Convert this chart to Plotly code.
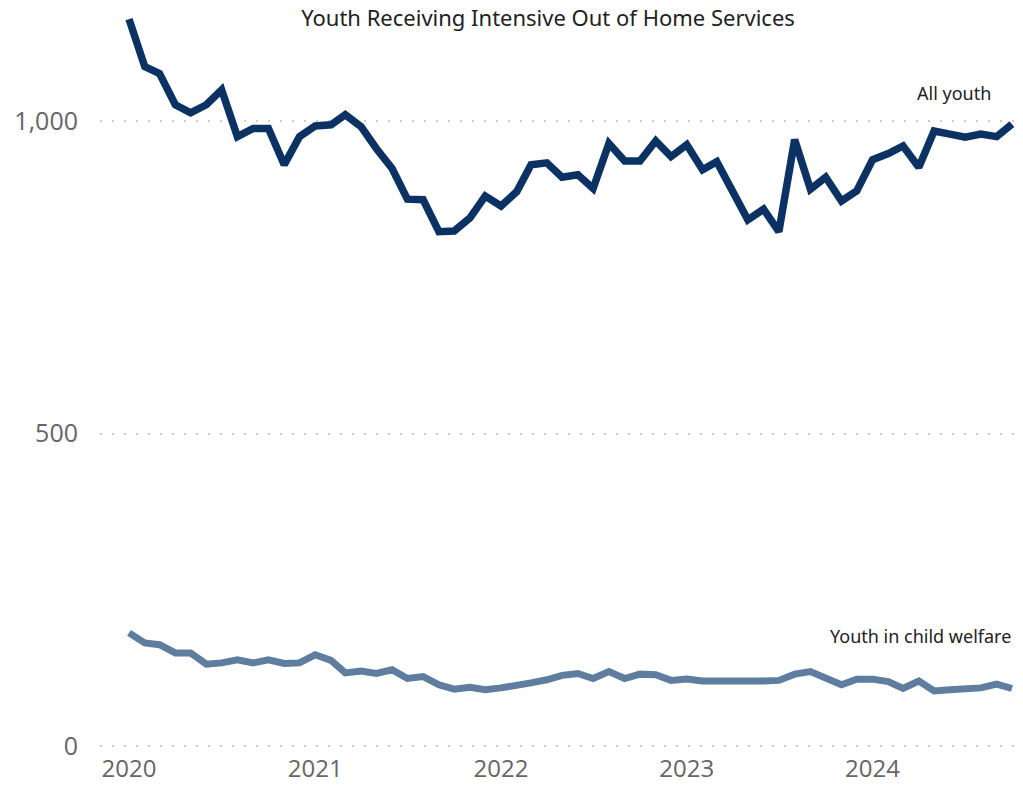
import plotly.graph_objects as go

months = [f"{y}-{m:02d}-01" for y in range(2020, 2025) for m in range(1, 13)][:58]

all_youth = [
    1163, 1087, 1076, 1026, 1013, 1026, 1050, 975, 988, 988, 930, 975,
    992, 994, 1010, 991, 956, 924, 875, 874, 823, 824, 845, 880,
    864, 887, 930, 933, 910, 914, 892, 964, 936, 936, 968, 943,
    962, 922, 935, 890, 842, 859, 823, 970, 891, 910, 872, 888,
    938, 948, 960, 926, 984, 979, 974, 979, 975, 995,
]
child_welfare = [
    181, 165, 162, 149, 149, 131, 133, 138, 133, 138, 132, 133,
    146, 137, 117, 120, 116, 122, 108, 111, 98, 91, 94, 90,
    93, 96, 101, 106, 113, 116, 108, 119, 108, 115, 114, 105,
    107, 104, 104, 103, 102, 104, 105, 115, 119, 110, 98, 107,
    107, 103, 92, 104, 88, 90, 91, 93, 99, 92,
]

x_tickvals = ["2020-01-01", "2021-01-01", "2022-01-01", "2023-01-01", "2024-01-01"]
x_ticktext = ["2020", "2021", "2022", "2023", "2024"]
y_tickvals = [0, 500, 1000]
y_ticktext = ["0", "500", "1,000"]

title_text = "Youth Receiving Intensive Out of Home Services"
label_all = "All youth"
label_cw = "Youth in child welfare"

W, H = 1023, 792
L, R, T, B = 100, 8, 8, 40

fig = go.Figure()
fig.add_trace(go.Scatter(x=months, y=child_welfare, mode="lines",
                         line=dict(color="#5f7e9f", width=7), name=label_cw,
                         hoverinfo="x+y"))
fig.add_trace(go.Scatter(x=months, y=all_youth, mode="lines",
                         line=dict(color="#0c3263", width=7.5), name=label_all,
                         hoverinfo="x+y"))

fig.update_layout(
    width=W, height=H,
    margin=dict(l=L, r=R, t=T, b=B),
    paper_bgcolor="white", plot_bgcolor="white",
    showlegend=False,
    title=dict(text=title_text, x=548/W, xanchor="center",
               y=1 - 18/H, yanchor="middle", yref="container",
               font=dict(family="Noto Sans", size=22, color="#222222")),
    xaxis=dict(
        type="date", automargin=False,
        range=["2019-11-05", "2024-10-07"],
        tickvals=x_tickvals, ticktext=x_ticktext,
        showgrid=False, zeroline=False, showline=False,
        ticks="", tickfont=dict(family="Open Sans", size=24, color="#666666"),
    ),
    yaxis=dict(
        automargin=False,
        range=[-9.6, 1180.8],
        tickvals=y_tickvals, ticktext=y_ticktext,
        showgrid=True, gridcolor="#cccccc", gridwidth=2, griddash="2px,10px",
        zeroline=False, showline=False, ticks="",
        ticklabelstandoff=21,
        tickfont=dict(family="Open Sans", size=25, color="#666666"),
    ),
    annotations=[
        dict(text=label_all, xref="paper", x=(993-100)/915, xanchor="right",
             yref="y", y=1045, yanchor="middle", showarrow=False,
             font=dict(family="Noto Sans", size=18, color="#222222")),
        dict(text=label_cw, xref="paper", x=(1013-100)/915, xanchor="right",
             yref="y", y=176, yanchor="middle", showarrow=False,
             font=dict(family="Noto Sans", size=18, color="#222222")),
    ],
)

fig.write_html("out.html", config={"displayModeBar": False},
               post_script="document.body.style.margin='0';")
